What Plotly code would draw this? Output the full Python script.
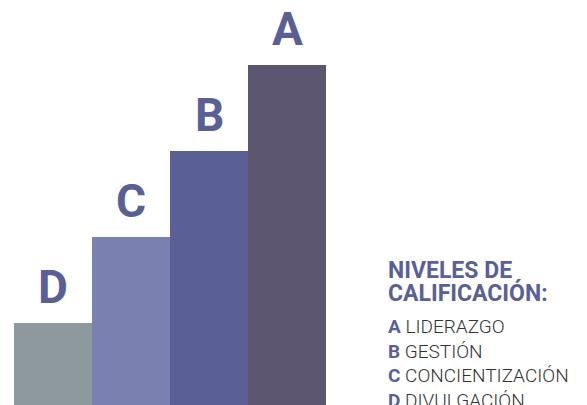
import plotly.graph_objects as go

categories = ["D", "C", "B", "A"]
values = [1, 2, 3, 4]
bar_colors = ["#8e999d", "#7a80b0", "#5a6096", "#5d5670"]
legend_title = ["NIVELES DE", "CALIFICACIÓN:"]
legend_items = [("A", "LIDERAZGO"), ("B", "GESTIÓN"), ("C", "CONCIENTIZACIÓN"), ("D", "DIVULGACIÓN")]

W, H = 587, 405
OFF = 8  # page body margin offset
x_positions = list(range(len(categories)))

fig = go.Figure()
fig.add_trace(go.Bar(
    x=x_positions, y=values, marker=dict(color=bar_colors, line=dict(width=0)),
    width=1.0, hoverinfo="skip", showlegend=False,
))

label_color = "#5a5f96"
annotations = []
for xi, c, v in zip(x_positions, categories, values):
    annotations.append(dict(
        x=xi, y=v, xref="x", yref="y", text=c, showarrow=False,
        yanchor="bottom", xanchor="center", yshift=8, borderpad=0,
        font=dict(family="Roboto", size=46, color=label_color, weight=700),
    ))

# legend text block
x0 = (387 - OFF) / W
title_baselines = [278, 300.5]
for t, b in zip(legend_title, title_baselines):
    annotations.append(dict(
        x=x0, y=1 - (b - OFF + 7) / H, xref="paper", yref="paper", text=t, showarrow=False,
        xanchor="left", yanchor="bottom", borderpad=0,
        font=dict(family="Roboto", size=23, color=label_color, weight=700),
    ))
item_baselines = [330, 354.5, 379, 404]
for (k, name), b in zip(legend_items, item_baselines):
    annotations.append(dict(
        x=x0, y=1 - (b - OFF + 9) / H, xref="paper", yref="paper",
        text=f"<b><span style='color:{label_color}'>{k}</span></b> {name}", showarrow=False,
        xanchor="left", yanchor="bottom", borderpad=0,
        font=dict(family="Roboto", size=19, color="#333333", weight=300),
    ))

unit = 86.0
base_px = 409.0 - OFF
bar_px = 78.0
left_px = 14.0 - OFF
x_min = -0.5 - left_px / bar_px
x_max = x_min + W / bar_px
y_min = (base_px - H) / unit
y_max = base_px / unit

fig.update_layout(
    width=W, height=H, margin=dict(l=0, r=0, t=0, b=0),
    paper_bgcolor="white", plot_bgcolor="white", bargap=0,
    xaxis=dict(range=[x_min, x_max], visible=False, fixedrange=True),
    yaxis=dict(range=[y_min, y_max], visible=False, fixedrange=True),
    annotations=annotations,
)
fig.write_html("out.html")
